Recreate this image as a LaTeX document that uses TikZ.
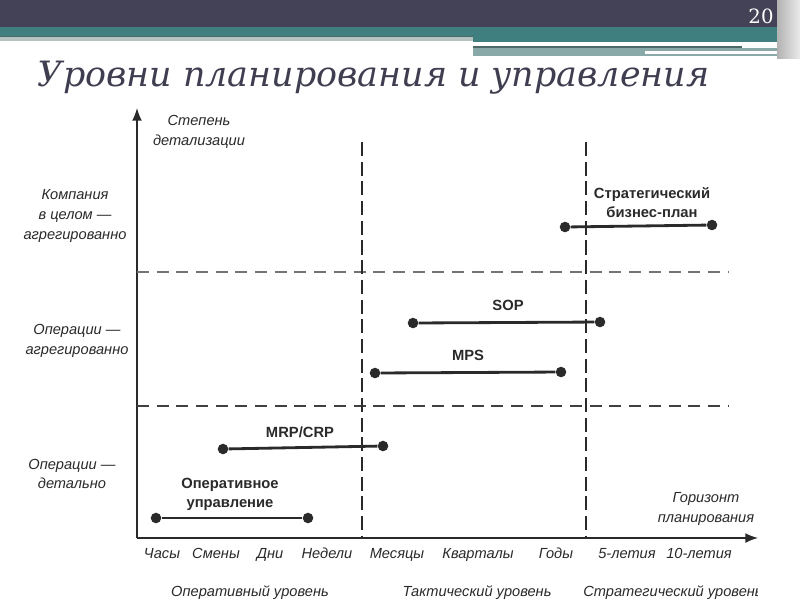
\documentclass[tikz,border=0pt]{standalone}
\usepackage{fontspec}
\usepackage{xcolor}
\usetikzlibrary{arrows.meta}
\setmainfont{Liberation Sans}
\newfontfamily\titlefont{DejaVu Serif}
\definecolor{hdrdark}{HTML}{434256}
\definecolor{hdrteal}{HTML}{3F7F80}
\definecolor{hdrgray}{HTML}{B4C2C2}
\definecolor{hdrmid}{HTML}{89A9A9}
\definecolor{hdrline}{HTML}{4E6868}
\definecolor{titlegray}{HTML}{3E3E50}
\definecolor{ink}{HTML}{2A2A2A}

\begin{document}
\begin{tikzpicture}[x=0.025cm,y=-0.025cm,>={Latex[length=9pt,width=7pt]}]
\tikzstyle{axislbl}=[text=ink,font=\fontsize{10.4}{14}\selectfont\itshape,align=center,inner sep=0pt]
\tikzstyle{ticklbl}=[axislbl,anchor=base]
\tikzstyle{planlbl}=[text=ink,font=\fontsize{10.5}{13.5}\selectfont\bfseries,align=center,inner sep=0pt]
\tikzstyle{endpt}=[circle,fill=ink,inner sep=0pt,minimum size=7.5pt]
\tikzstyle{bar}=[ink,line width=2pt]
\tikzstyle{hgrid}=[black!55,line width=0.9pt,dash pattern=on 8.5pt off 5.5pt]
\tikzstyle{vgrid}=[ink,line width=0.8pt,dash pattern=on 10pt off 4pt]
\useasboundingbox (0,0) rectangle (800,600);
\fill[white] (0,0) rectangle (800,600);
% header bands
\fill[hdrdark] (0,0) rectangle (800,27);
\fill[hdrteal] (0,27) rectangle (800,36);
\fill[hdrteal] (473,36) rectangle (800,42);
\fill[hdrline] (0,36) rectangle (473,37);
\fill[hdrgray] (0,37) rectangle (473,41);
\fill[white] (473,43) rectangle (742,46);
\fill[hdrline] (473,46) rectangle (742,48);
\fill[hdrmid] (473,48) rectangle (800,56);
\fill[white] (645,51) rectangle (785,54);
\fill[left color=black!30,right color=black!8] (777,0) rectangle (800,58);
\node[text=white,font=\titlefont\fontsize{14}{14}\selectfont] (pg) at (761,16) {20};
\node[anchor=west,text=titlegray,font=\titlefont\fontsize{24.8}{28}\selectfont\itshape] (title) at (33,78) {Уровни планирования и управления};
% axes
\coordinate (o) at (137,538);
\coordinate (ytop) at (137,108);
\coordinate (xend) at (758,538);
\draw[ink,line width=1pt,->] (o) -- (ytop);
\draw[ink,line width=1pt,->] (o) -- (xend);
% grid lines
\coordinate (h1a) at (137,272);
\coordinate (h1b) at (728,272);
\coordinate (h2a) at (137,406);
\coordinate (h2b) at (728,406);
\coordinate (v1a) at (362,142);
\coordinate (v1b) at (362,538);
\coordinate (v2a) at (586,142);
\coordinate (v2b) at (586,538);
\draw[hgrid] (h1a) -- (h1b);
\draw[hgrid,black!75] (h2a) -- (h2b);
\draw[vgrid] (v1a) -- (v1b);
\draw[vgrid] (v2a) -- (v2b);
% axis labels
\node[axislbl] (ydesc) at (199,132) {Степень\\детализации};
\node[axislbl] (xdesc) at (706,509) {Горизонт\\планирования};
\node[axislbl] (lvl1) at (75,216) {Компания\\в целом —\\агрегированно};
\node[axislbl] (lvl2) at (77,341) {Операции —\\агрегированно};
\node[axislbl] (lvl3) at (72,474) {Операции —\\детально};
\foreach \xx/\tt in {162/Часы,216/Смены,270/Дни,327/Недели,397/Месяцы,478/Кварталы,556/Годы,627/5-летия,699/10-летия}
  \node[ticklbl] (t\xx) at (\xx,558) {\tt};
\begin{scope}
\clip (0,0) rectangle (757,600);
\node[ticklbl] (op) at (250,596) {Оперативный уровень};
\node[ticklbl] (tac) at (477,596) {Тактический уровень};
\node[ticklbl] (str) at (673,596) {Стратегический уровень};
\end{scope}
% planning horizons
\node[endpt] (sa) at (565,227) {};
\node[endpt] (sb) at (712,225) {};
\draw[bar] (sa) -- (sb);
\node[planlbl] (sl) at (652,203) {Стратегический\\бизнес-план};
\node[endpt] (pa) at (413,323) {};
\node[endpt] (pb) at (600,322) {};
\draw[bar] (pa) -- (pb);
\node[planlbl] (pl) at (508,305) {SOP};
\node[endpt] (ma) at (375,373) {};
\node[endpt] (mb) at (561,372) {};
\draw[bar] (ma) -- (mb);
\node[planlbl] (ml) at (468,355) {MPS};
\node[endpt] (ra) at (223,449) {};
\node[endpt] (rb) at (383,446) {};
\draw[bar] (ra) -- (rb);
\node[planlbl] (rl) at (300,432) {MRP/CRP};
\node[endpt] (ua) at (156,518) {};
\node[endpt] (ub) at (308,518) {};
\draw[bar] (ua) -- (ub);
\node[planlbl] (ul) at (230,494) {Оперативное\\управление};
\end{tikzpicture}
\end{document}
